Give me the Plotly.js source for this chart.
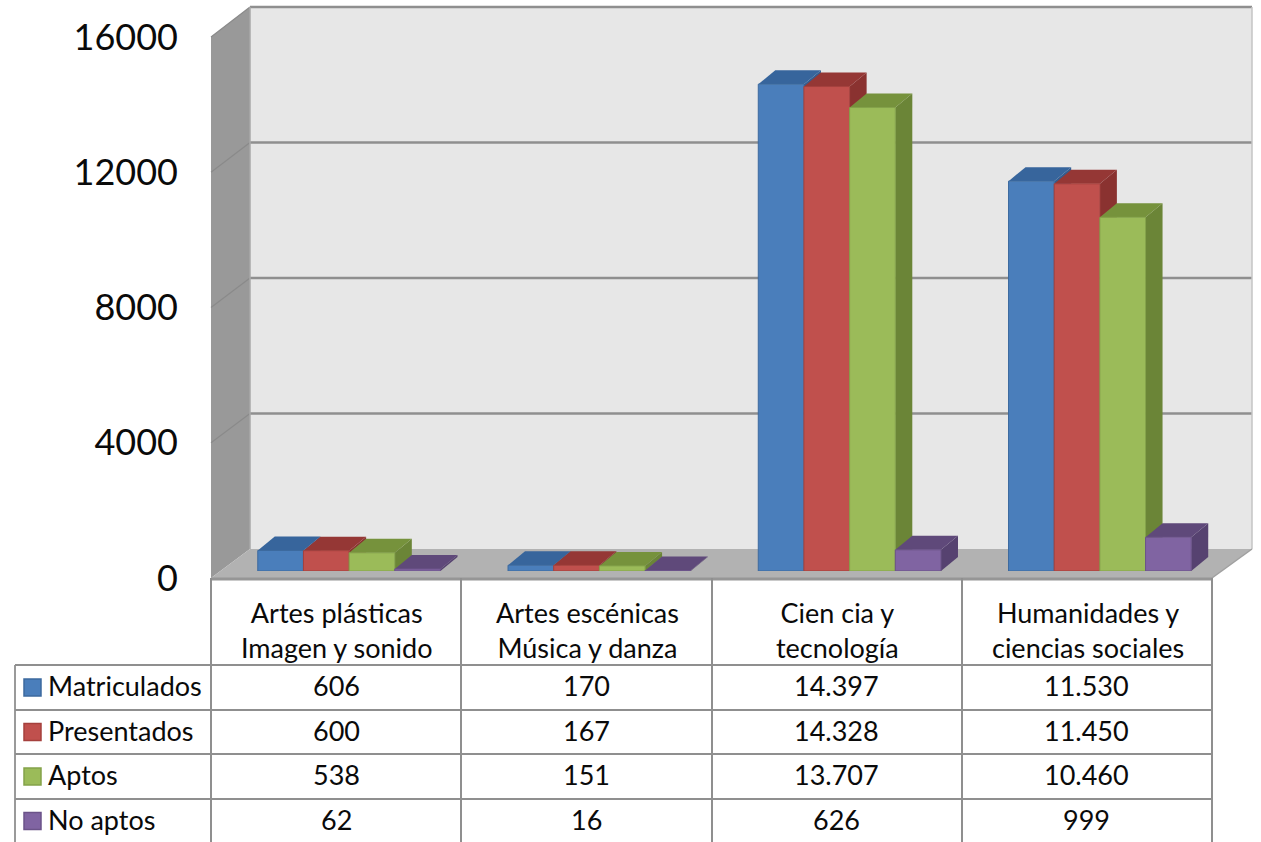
<!DOCTYPE html>
<html><head><meta charset="utf-8">
<script src="https://cdn.plot.ly/plotly-3.0.1.min.js"></script>
<style>html,body{margin:0;padding:0;background:#fff}#c{width:1261px;height:842px}svg text{font-variant-ligatures:none}</style>
</head><body><div id="c"></div>
<script>
const categories = ["Artes plásticas<br>Imagen y sonido","Artes escénicas<br>Música y danza","Cien cia y<br>tecnología","Humanidades y<br>ciencias sociales"];
const seriesNames = ["Matriculados","Presentados","Aptos","No aptos"];
const matriculados = [606,170,14397,11530];
const presentados = [600,167,14328,11450];
const aptos = [538,151,13707,10460];
const noAptos = [62,16,626,999];
const tickValues = [0,4000,8000,12000,16000];
const frontColors = ["#4a7ebb","#c0504d","#9bbb59","#8064a2"];
const topColors = ["#37659c","#953735","#76923c","#5f497a"];
const sideColors = ["#335d90","#8a3230","#6b8537","#564270"];
const edgeColors = ["#3c6a9f","#a5403d","#84a24a","#6b5389"];

const W=1261,H=842;
const px=x=>x/W, py=y=>1-y/H;
const series=[matriculados,presentados,aptos,noAptos];
const yMax=16000, front={l:211,r:1212,t:37,b:578};
const unitsPerPxY=yMax/(front.b-front.t), unitsPerPxX=4/(front.r-front.l);
const barShift={x:13,y:7}, wall={dx:39,dy:29};
const depth={x:17*unitsPerPxX,y:14*unitsPerPxY};
const groupWidth=0.73, barW=groupWidth/series.length;
const fmt=v=>String(v).replace(/\B(?=(\d{3})+$)/g,'.');
const catIdx=categories.map((_,i)=>i);

const traces=series.map((vals,s)=>({type:'bar',x:catIdx,y:vals,name:seriesNames[s],xaxis:'x2',yaxis:'y2',
  marker:{color:frontColors[s],line:{color:edgeColors[s],width:1}},hoverinfo:'y'}));
traces.unshift({type:'scatter',x:catIdx,y:catIdx.map(()=>0),mode:'none',xaxis:'x',yaxis:'y',hoverinfo:'skip',showlegend:false});
traces.push({type:'scatter',x:catIdx,y:catIdx.map(()=>0),mode:'none',xaxis:'x3',yaxis:'y3',hoverinfo:'skip',showlegend:false});

const shapes=[];
const paperPoly=(pts,fill)=>shapes.push({type:'path',xref:'paper',yref:'paper',layer:'below',
  path:'M'+pts.map(p=>px(p[0])+','+py(p[1])).join('L')+'Z',fillcolor:fill,line:{width:0}});
const line=(x0,y0,x1,y1,c,w)=>shapes.push({type:'line',xref:'paper',yref:'paper',layer:'below',
  x0:px(x0),y0:py(y0),x1:px(x1),y1:py(y1),line:{color:c,width:w}});
const backL=front.l+wall.dx, backR=front.r+wall.dx+1, backT=front.t-wall.dy-1, backB=front.b-wall.dy;
paperPoly([[backL,backT],[backR,backT],[backR,backB],[backL,backB]],'#e7e7e7');
paperPoly([[front.l,front.t],[backL,backT],[backL,backB],[front.l,front.b]],'#999999');
paperPoly([[front.l,front.b],[backL,backB],[backR,backB],[front.r,front.b]],'#b2b2b2');
tickValues.forEach(v=>{
  const f=v/yMax, yB=backB+(backT-backB)*f, yF=front.b+(front.t-front.b)*f;
  if(v>0) line(backL,yB,backR,yB,'#8f8f8f',2.5);
  if(v>0) line(front.l,yF,backL,yB,'#8a8a8a',1.2);
});
line(backL,backT,backL,backB,'#a9a9a9',1.5);
line(backR,backT,backR,backB,'#c4c4c4',1.5);
line(front.l,front.b+1,front.r,front.b+1,'#969696',3);
line(front.r,front.b,backR,backB,'#a0a0a0',1.5);
const colX=[front.l,461,712,962,front.r], rowY=[665,710,754,799], tableL=15;
colX.forEach(x=>line(x,front.b,x,H,'#8f8f8f',2));
line(tableL,rowY[0],tableL,H,'#9a9a9a',2);
rowY.forEach(y=>line(tableL,y,front.r,y,'#8f8f8f',2));
series.forEach((_,s)=>{
  const c=(rowY[s]+(rowY[s+1]||rowY[s]+44))/2;
  shapes.push({type:'rect',xref:'paper',yref:'paper',layer:'below',x0:px(24),x1:px(41),y0:py(c-8.5),y1:py(c+8.5),
    fillcolor:frontColors[s],line:{color:edgeColors[s],width:1.5}});
});
catIdx.forEach(c=>series.forEach((vals,s)=>{
  const xl=c-groupWidth/2+s*barW, xr=xl+barW, v=vals[c];
  const path=pts=>'M'+pts.map(p=>p[0]+','+p[1]).join('L')+'Z';
  shapes.push({type:'path',xref:'x2',yref:'y2',layer:'below',line:{width:0},fillcolor:sideColors[s],
    path:path([[xr,0],[xr+depth.x,depth.y],[xr+depth.x,v+depth.y],[xr,v]])});
  shapes.push({type:'path',xref:'x2',yref:'y2',layer:'below',line:{width:0},fillcolor:topColors[s],
    path:path([[xl,v],[xl+depth.x,v+depth.y],[xr+depth.x,v+depth.y],[xr,v]])});
}));

const annotations=[];
const tf={family:'Lato, Carlito, sans-serif',size:27,color:'#0a0a0a'};
const rowTextY=s=>(rowY[s]+(rowY[s+1]||rowY[s]+44))/2-2;
categories.forEach((t,c)=>{
  annotations.push({text:t,xref:'x',x:c,yref:'paper',y:py(630),showarrow:false,font:tf,xanchor:'center',yanchor:'middle',xshift:1});
  series.forEach((vals,s)=>{
    annotations.push({text:fmt(vals[c]),xref:'x',x:c,yref:'paper',y:py(rowTextY(s)),showarrow:false,font:tf,xanchor:'center',yanchor:'middle'});
  });
});
seriesNames.forEach((n,s)=>{
  annotations.push({text:n,xref:'paper',x:px(47),yref:'paper',y:py(rowTextY(s)),showarrow:false,font:tf,xanchor:'left',yanchor:'middle',xshift:-1});
});

const hidden={showgrid:false,zeroline:false,showline:false,showticklabels:false,ticks:''};
const xr=[-0.5,3.5];
const layout={width:W,height:H,margin:{l:0,r:0,t:0,b:0,pad:0},paper_bgcolor:'#fff',plot_bgcolor:'rgba(0,0,0,0)',
  showlegend:false,barmode:'group',bargap:1-groupWidth,bargroupgap:0,
  xaxis:{...hidden,domain:[px(front.l),px(front.r)],range:xr,anchor:'y'},
  yaxis:{domain:[py(front.b),py(front.t)],range:[0,yMax],anchor:'x',tickmode:'array',tickvals:tickValues,ticktext:tickValues.map(String),
    showgrid:false,zeroline:false,showline:false,ticks:'',ticklabelstandoff:32,tickfont:{family:'Lato, Carlito, sans-serif',size:36,color:'#0a0a0a'}},
  xaxis2:{...hidden,domain:[px(front.l+barShift.x),px(front.r+barShift.x)],range:xr,anchor:'y2'},
  yaxis2:{...hidden,domain:[py(front.b-barShift.y),py(front.t-barShift.y)],range:[0,yMax],anchor:'x2'},
  xaxis3:{...hidden,domain:[px(backL),px(backR)],range:xr,anchor:'y3'},
  yaxis3:{...hidden,domain:[py(backB),py(backT)],range:[0,yMax],anchor:'x3'},
  shapes,annotations};
Plotly.newPlot('c',traces,layout,{displayModeBar:false,staticPlot:true});
</script></body></html>
